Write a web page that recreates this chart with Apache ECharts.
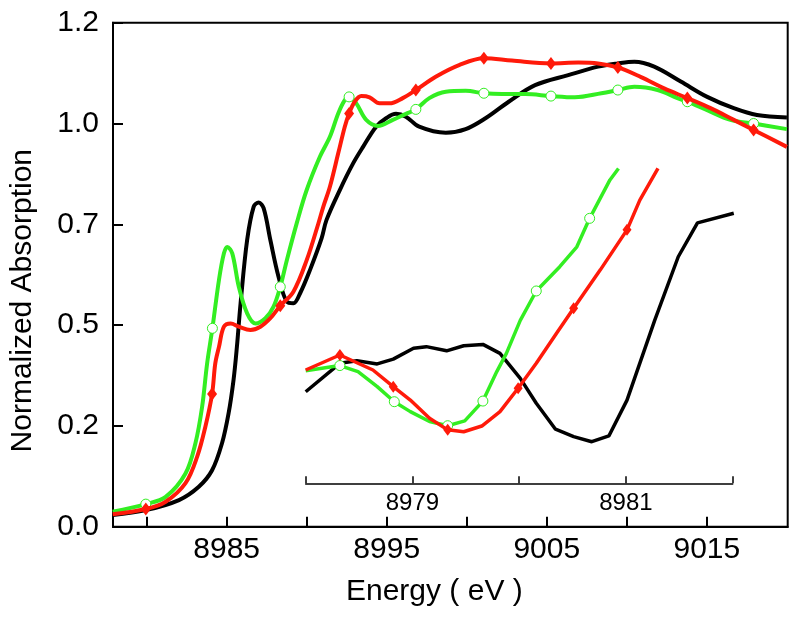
<!DOCTYPE html>
<html>
<head>
<meta charset="utf-8">
<script src="https://cdn.jsdelivr.net/npm/echarts@6/dist/echarts.min.js"></script>
<style>
html,body{margin:0;padding:0;background:#fff;}
#chart{width:800px;height:621px;}
</style>
</head>
<body>
<div id="chart"></div>
<script>
// ---- main plot data (energy in eV, normalized absorption) ----
const blackE = [8977.89, 8979.95, 8982.02, 8983.26, 8984.09, 8984.71, 8985.12, 8985.43, 8985.64, 8985.87, 8986.28, 8986.69, 8987.00, 8987.31, 8987.73, 8988.24, 8988.76, 8989.17, 8989.59, 8990.21, 8990.93, 8991.24, 8992.07, 8992.90, 8993.52, 8994.34, 8994.96, 8995.58, 8996.20, 8997.03, 8998.69, 8999.93, 9001.17, 9002.62, 9004.27, 9006.34, 9008.20, 9009.44, 9010.47, 9011.71, 9013.37, 9015.02, 9016.68, 9018.13, 9020.00];
const blackA = [0.029, 0.041, 0.066, 0.099, 0.140, 0.207, 0.281, 0.364, 0.446, 0.554, 0.711, 0.794, 0.804, 0.790, 0.711, 0.620, 0.558, 0.554, 0.579, 0.637, 0.715, 0.761, 0.835, 0.901, 0.942, 0.992, 1.013, 1.024, 1.017, 0.992, 0.977, 0.986, 1.013, 1.054, 1.095, 1.120, 1.141, 1.149, 1.153, 1.141, 1.104, 1.066, 1.038, 1.021, 1.015];

const greenE = [8977.88, 8979.95, 8981.19, 8982.43, 8983.05, 8983.47, 8983.78, 8984.11, 8984.52, 8984.83, 8985.04, 8985.35, 8985.76, 8986.28, 8986.80, 8987.42, 8987.93, 8988.35, 8988.76, 8989.38, 8990.00, 8990.83, 8991.45, 8991.97, 8992.38, 8992.65, 8993.10, 8993.72, 8994.45, 8995.38, 8996.20, 8996.82, 8997.66, 8998.69, 8999.93, 9001.07, 9002.20, 9003.65, 9005.26, 9006.75, 9008.41, 9009.44, 9010.47, 9011.92, 9013.16, 9013.78, 9015.02, 9016.47, 9017.92, 9020.00];
const greenA = [0.037, 0.056, 0.074, 0.132, 0.207, 0.298, 0.405, 0.492, 0.612, 0.678, 0.694, 0.678, 0.595, 0.529, 0.504, 0.517, 0.546, 0.595, 0.661, 0.753, 0.835, 0.918, 0.967, 1.025, 1.058, 1.066, 1.050, 1.009, 0.994, 1.009, 1.024, 1.035, 1.063, 1.079, 1.081, 1.075, 1.073, 1.073, 1.068, 1.065, 1.075, 1.083, 1.091, 1.083, 1.063, 1.054, 1.033, 1.009, 1.000, 0.986];
const greenMarks = [8979.95, 8984.11, 8988.35, 8992.65, 8996.82, 9001.07, 9005.26, 9009.44, 9013.78, 9017.92];

const redE = [8977.88, 8979.95, 8981.19, 8982.43, 8983.16, 8983.67, 8984.09, 8984.29, 8984.52, 8984.83, 8985.25, 8985.76, 8986.49, 8987.11, 8987.73, 8988.35, 8989.17, 8990.00, 8990.73, 8991.04, 8991.45, 8991.97, 8992.38, 8992.65, 8993.00, 8993.41, 8993.93, 8994.55, 8995.17, 8996.00, 8996.82, 8998.06, 8999.52, 9001.07, 9002.82, 9005.26, 9006.96, 9008.20, 9009.44, 9010.89, 9012.33, 9013.78, 9015.23, 9016.68, 9017.92, 9020.00];
const redA = [0.031, 0.044, 0.062, 0.108, 0.174, 0.248, 0.329, 0.405, 0.446, 0.496, 0.504, 0.496, 0.488, 0.496, 0.517, 0.548, 0.583, 0.661, 0.752, 0.794, 0.843, 0.926, 0.992, 1.025, 1.054, 1.068, 1.065, 1.050, 1.050, 1.063, 1.083, 1.116, 1.145, 1.162, 1.156, 1.149, 1.151, 1.149, 1.139, 1.115, 1.087, 1.063, 1.038, 1.009, 0.984, 0.942];
const redMarks = [8979.95, 8984.09, 8988.35, 8992.65, 8996.82, 9001.07, 9005.26, 9009.44, 9013.78, 9017.92];

// ---- inset (pre-edge, relative intensity) ----
const insBlackE = [8978.00, 8978.32, 8978.48, 8978.67, 8978.82, 8979.01, 8979.13, 8979.32, 8979.48, 8979.66, 8979.82, 8980.01, 8980.16, 8980.34, 8980.51, 8980.68, 8980.84, 8981.01, 8981.27, 8981.49, 8981.67, 8982.01];
const insBlackA = [0.286, 0.375, 0.383, 0.373, 0.388, 0.422, 0.427, 0.414, 0.430, 0.434, 0.406, 0.328, 0.250, 0.169, 0.146, 0.130, 0.148, 0.260, 0.510, 0.708, 0.814, 0.844];

const insGreenE = [8978.00, 8978.32, 8978.49, 8978.67, 8978.83, 8978.98, 8979.16, 8979.33, 8979.49, 8979.66, 8979.79, 8979.88, 8980.01, 8980.16, 8980.38, 8980.54, 8980.66, 8980.85, 8980.93];
const insGreenA = [0.352, 0.368, 0.349, 0.302, 0.255, 0.224, 0.193, 0.180, 0.195, 0.257, 0.349, 0.406, 0.509, 0.601, 0.677, 0.739, 0.828, 0.948, 0.984];
const insGreenMarks = [8978.32, 8978.83, 8979.33, 8979.66, 8980.16, 8980.66];

const insRedE = [8978.00, 8978.32, 8978.63, 8978.82, 8978.98, 8979.16, 8979.33, 8979.48, 8979.65, 8979.82, 8979.99, 8980.16, 8980.35, 8980.51, 8980.76, 8981.01, 8981.13, 8981.30];
const insRedA = [0.354, 0.401, 0.354, 0.302, 0.260, 0.203, 0.167, 0.161, 0.179, 0.224, 0.297, 0.375, 0.469, 0.547, 0.667, 0.792, 0.885, 0.984];
const insRedMarks = [8978.32, 8978.82, 8979.33, 8979.99, 8980.51, 8981.01];

// ---- axis ticks / labels ----
const xTickValues = [8980, 8985, 8990, 8995, 9000, 9005, 9010, 9015];
const xLabelValues = [8985, 8995, 9005, 9015];
const yTickValues = [0, 0.25, 0.5, 0.75, 1.0, 1.25];
const yTickLabels = ['0.0', '0.2', '0.5', '0.7', '1.0', '1.2'];
const insetLabelValues = [8979, 8981];

const BLACK = '#000000', RED = '#ff1a0a', GREEN = '#33ee22';
const FONT = '"Liberation Sans", Arial, Helvetica, sans-serif';

function pts(E, A, marks) {
  return E.map((e, i) => {
    const item = { value: [e, A[i]] };
    if (!marks || marks.indexOf(e) < 0) item.symbol = 'none';
    return item;
  });
}

const chart = echarts.init(document.getElementById('chart'), null, { renderer: 'canvas' });
const option = {
  animation: false,
  backgroundColor: '#ffffff',
  grid: [
    { left: 108, right: 12.3, top: 22.7, bottom: 94.3, show: true, borderColor: '#000', borderWidth: 2, backgroundColor: 'transparent' },
    { left: 305.7, right: 67.3, top: 163.3, bottom: 137.7 }
  ],
  xAxis: [
    {
      type: 'value', gridIndex: 0, min: 8977.9, max: 9020.05,
      name: 'Energy ( eV )', nameLocation: 'middle', nameGap: 50,
      nameTextStyle: { fontFamily: FONT, fontSize: 30, color: '#000', padding: [0, 32, 0, 0] },
      axisLine: { show: true, lineStyle: { color: '#000', width: 2 } },
      axisTick: { show: true, inside: true, length: 10, lineStyle: { color: '#000', width: 2 }, customValues: xTickValues },
      axisLabel: { show: true, margin: 8, fontFamily: FONT, fontSize: 30, color: '#000', customValues: xLabelValues, formatter: v => String(Math.round(v)) },
      splitLine: { show: false }
    },
    {
      type: 'value', gridIndex: 1, min: 8978, max: 8982, interval: 1,
      axisLine: { show: true, lineStyle: { color: '#000', width: 1.5 } },
      axisTick: { show: true, inside: true, length: 7, lineStyle: { color: '#000', width: 1.5 } },
      axisLabel: { show: true, margin: 8, fontFamily: FONT, fontSize: 24, color: '#000', customValues: insetLabelValues, formatter: v => String(Math.round(v)) },
      splitLine: { show: false }
    }
  ],
  yAxis: [
    {
      type: 'value', gridIndex: 0, min: 0, max: 1.25, interval: 0.25,
      name: 'Normalized Absorption', nameLocation: 'middle', nameGap: 75,
      nameTextStyle: { fontFamily: FONT, fontSize: 30, color: '#000', padding: [0, 52, 0, 0] },
      axisLine: { show: true, lineStyle: { color: '#000', width: 2 } },
      axisTick: { show: true, inside: true, length: 10, lineStyle: { color: '#000', width: 2 } },
      axisLabel: { show: true, margin: 14, fontFamily: FONT, fontSize: 30, color: '#000',
        formatter: v => { const i = yTickValues.findIndex(t => Math.abs(t - v) < 1e-6); return i >= 0 ? yTickLabels[i] : ''; } },
      splitLine: { show: false }
    },
    {
      type: 'value', gridIndex: 1, min: 0, max: 1, show: false
    }
  ],
  series: [
    { type: 'line', name: 'black', xAxisIndex: 0, yAxisIndex: 0, data: pts(blackE, blackA, null), smooth: 0.35, showSymbol: false,
      lineStyle: { color: BLACK, width: 4 }, itemStyle: { color: BLACK }, z: 2 },
    { type: 'line', name: 'green', xAxisIndex: 0, yAxisIndex: 0, data: pts(greenE, greenA, greenMarks), smooth: 0.35, showAllSymbol: true,
      symbol: 'circle', symbolSize: 10, lineStyle: { color: GREEN, width: 4 }, itemStyle: { color: '#ffffff', borderColor: GREEN, borderWidth: 1 }, z: 3 },
    { type: 'line', name: 'red', xAxisIndex: 0, yAxisIndex: 0, data: pts(redE, redA, redMarks), smooth: 0.35, showAllSymbol: true,
      symbol: 'diamond', symbolSize: [10, 13], lineStyle: { color: RED, width: 4 }, itemStyle: { color: RED }, z: 4 },
    { type: 'line', name: 'black inset', xAxisIndex: 1, yAxisIndex: 1, data: pts(insBlackE, insBlackA, null), smooth: false, showSymbol: false,
      lineStyle: { color: BLACK, width: 3.5 }, itemStyle: { color: BLACK }, z: 2 },
    { type: 'line', name: 'green inset', xAxisIndex: 1, yAxisIndex: 1, data: pts(insGreenE, insGreenA, insGreenMarks), smooth: false, showAllSymbol: true,
      symbol: 'circle', symbolSize: 10, lineStyle: { color: GREEN, width: 3.5 }, itemStyle: { color: '#ffffff', borderColor: GREEN, borderWidth: 1 }, z: 3 },
    { type: 'line', name: 'red inset', xAxisIndex: 1, yAxisIndex: 1, data: pts(insRedE, insRedA, insRedMarks), smooth: false, showAllSymbol: true,
      symbol: 'diamond', symbolSize: [9, 12], lineStyle: { color: RED, width: 3.5 }, itemStyle: { color: RED }, z: 4 }
  ]
};
chart.setOption(option);
</script>
</body>
</html>
